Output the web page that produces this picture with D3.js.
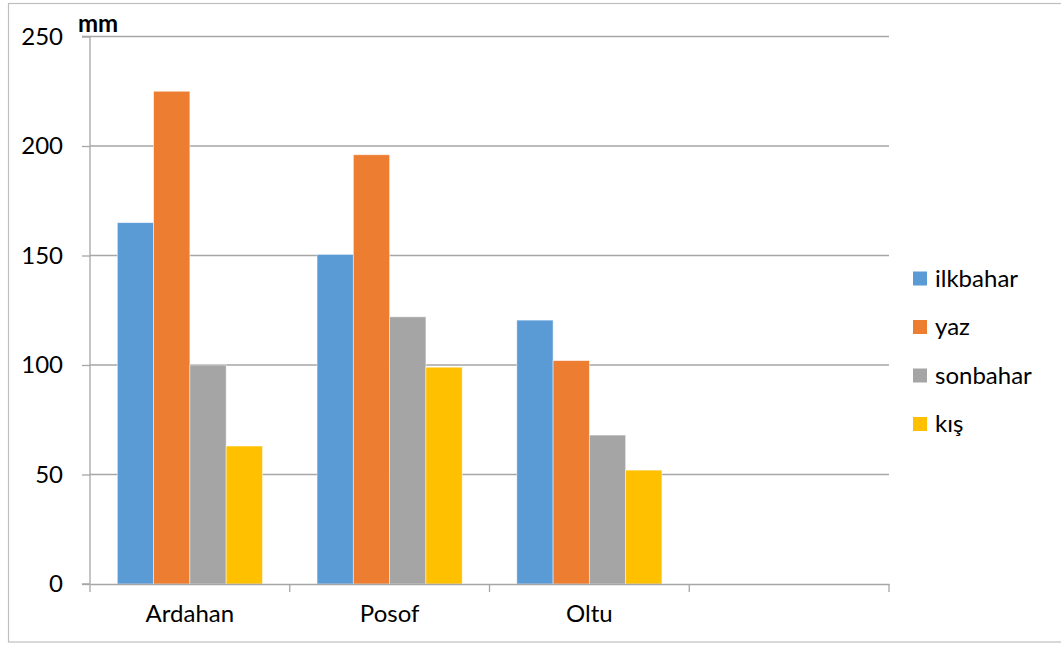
<!DOCTYPE html>
<html>
<head>
<meta charset="utf-8">
<script src="https://cdn.jsdelivr.net/npm/d3@7"></script>
<style>
  html, body { margin: 0; padding: 0; background: #fff; }
  svg { display: block; font-family: Lato, "Liberation Sans", sans-serif; }
</style>
</head>
<body>
<svg id="chart" width="1061" height="645"></svg>
<script>
const categories = ["Ardahan", "Posof", "Oltu", ""];
const seriesNames = ["ilkbahar", "yaz", "sonbahar", "kış"];
const ilkbahar = [165, 150.5, 120.5, null];
const yaz = [225, 196, 102, null];
const sonbahar = [100, 122, 68, null];
const kis = [63, 99, 52, null];
const yTicks = [0, 50, 100, 150, 200, 250];
const unitLabel = "mm";
const colors = ["#5B9BD5", "#ED7D31", "#A5A5A5", "#FFC000"];

const seriesValues = [ilkbahar, yaz, sonbahar, kis];

const svg = d3.select("#chart");
const W = 1061, H = 645;
const plot = { left: 90, right: 889, top: 36.5, bottom: 584 };
const FS = 24;

// outer chart border
svg.append("rect")
  .attr("x", 8.5).attr("y", 3.5)
  .attr("width", W + 10).attr("height", 638.5)
  .attr("fill", "none").attr("stroke", "#bfbfbf").attr("stroke-width", 1.2);

const x0 = d3.scaleBand().domain(categories).range([plot.left, plot.right]).paddingInner(0).paddingOuter(0);
const groupPad = 27.3;
const x1 = d3.scaleBand().domain(seriesNames).range([groupPad, x0.bandwidth() - groupPad]).padding(0);
const y = d3.scaleLinear().domain([0, 250]).range([plot.bottom, plot.top]);

// gridlines
svg.append("g").selectAll("line").data(yTicks.filter(t => t > 0)).join("line")
  .attr("x1", plot.left).attr("x2", plot.right)
  .attr("y1", d => y(d)).attr("y2", d => y(d))
  .attr("stroke", "#a6a6a6").attr("stroke-width", 1.3);

// bars
const groups = svg.append("g").selectAll("g").data(categories).join("g")
  .attr("transform", d => `translate(${x0(d)},0)`);
groups.selectAll("rect")
  .data((c, i) => seriesNames.map((s, j) => ({ s, v: seriesValues[j][i], color: colors[j] })).filter(d => d.v != null))
  .join("rect")
  .attr("x", d => x1(d.s))
  .attr("width", x1.bandwidth())
  .attr("y", d => y(d.v))
  .attr("height", d => y(0) - y(d.v))
  .attr("fill", d => d.color)
  .attr("stroke", "#ffffff").attr("stroke-opacity", 0.6).attr("stroke-width", 0.8);

// y axis
const yAxis = d3.axisLeft(y).tickValues(yTicks).tickSize(8).tickPadding(19).tickFormat(d3.format("d"));
const gy = svg.append("g").attr("transform", `translate(${plot.left},0)`).call(yAxis);
gy.select(".domain").attr("stroke", "#a6a6a6").attr("stroke-width", 1.3).attr("d", `M-8,${plot.top}H0V${plot.bottom}H-8`);
gy.selectAll(".tick line").attr("stroke", "#a6a6a6").attr("stroke-width", 1.3);
gy.selectAll(".tick text").attr("font-size", FS).attr("fill", "#000").attr("font-family", "Lato");

// x axis
const xAxis = d3.axisBottom(x0).tickSize(0).tickPadding(21);
const gx = svg.append("g").attr("transform", `translate(0,${plot.bottom})`).call(xAxis);
gx.select(".domain").attr("stroke", "#a6a6a6").attr("stroke-width", 1.3);
gx.selectAll(".tick text").attr("font-size", FS).attr("fill", "#000").attr("font-family", "Lato");
// category boundary ticks
const bounds = categories.map(c => x0(c)).concat([x0(categories[categories.length - 1]) + x0.bandwidth()]);
gx.append("g").selectAll("line").data(bounds).join("line")
  .attr("x1", d => d).attr("x2", d => d).attr("y1", 0).attr("y2", 8)
  .attr("stroke", "#a6a6a6").attr("stroke-width", 1.3);

// unit label
svg.append("text").attr("x", 78).attr("y", 32)
  .attr("font-size", FS).attr("font-weight", "bold").attr("font-family", "Lato")
  .text(unitLabel);

// legend
const legend = svg.append("g");
const legY0 = 278.5, legStep = 48.5;
const li = legend.selectAll("g").data(seriesNames).join("g")
  .attr("transform", (d, i) => `translate(913,${legY0 + i * legStep})`);
li.append("rect").attr("x", 0).attr("y", -7).attr("width", 14).attr("height", 14)
  .attr("fill", (d, i) => colors[i]);
li.append("text").attr("x", 22).attr("y", 0).attr("dy", "0.35em")
  .attr("font-size", FS).attr("font-family", "Lato").attr("fill", "#000")
  .text(d => d);
</script>
</body>
</html>
